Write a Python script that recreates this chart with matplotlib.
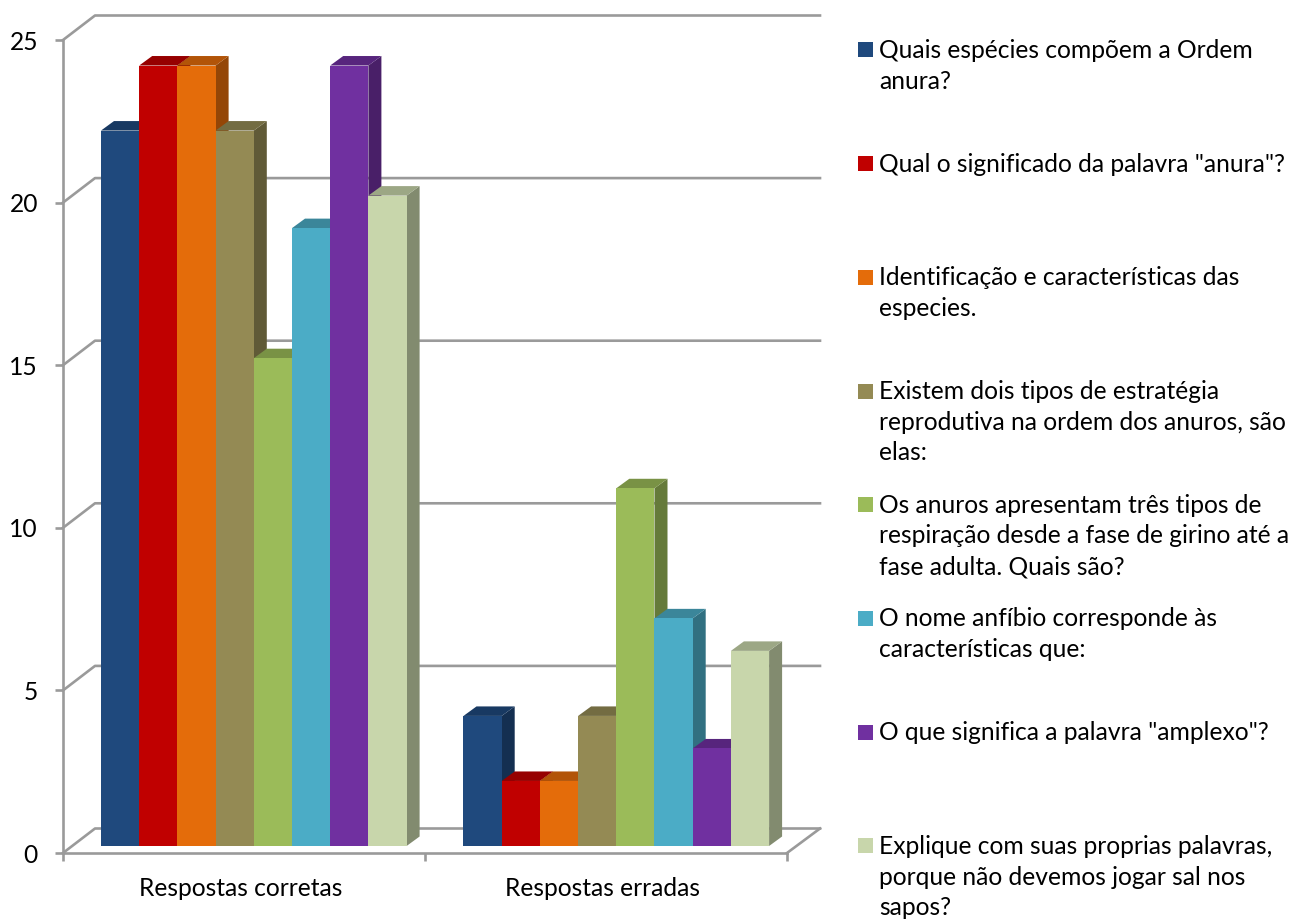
import matplotlib
matplotlib.use('Agg')
import matplotlib.pyplot as plt
from matplotlib.colors import to_rgb
from matplotlib.patches import Rectangle

plt.rcParams['font.family'] = ['Lato', 'DejaVu Sans']

categories = ['Respostas corretas', 'Respostas erradas']
series_labels = [
    'Quais espécies compõem a Ordem\nanura?',
    'Qual o significado da palavra "anura"?',
    'Identificação e características das\nespecies.',
    'Existem dois tipos de estratégia\nreprodutiva na ordem dos anuros, são\nelas:',
    'Os anuros apresentam três tipos de\nrespiração desde a fase de girino até a\nfase adulta. Quais são?',
    'O nome anfíbio corresponde às\ncaracterísticas que:',
    'O que significa a palavra "amplexo"?',
    'Explique com suas proprias palavras,\nporque não devemos jogar sal nos\nsapos?',
]
correct = [22, 24, 24, 22, 15, 19, 24, 20]
wrong = [4, 2, 2, 4, 11, 7, 3, 6]
colors = ['#1F497D', '#C00000', '#E46C0A', '#948A54', '#9BBB59', '#4BACC6', '#7030A0', '#C8D6AB']
y_ticks = [0, 5, 10, 15, 20, 25]

W, H = 1297, 921
GRAY = '#9a9a9a'
FONT = 17.7

# front plane of the fake 3d box, in pixels
left, right, y0, y25 = 63, 787, 853, 40
px_x = 2 / (right - left)
px_y = 25 / (y0 - y25)

fig = plt.figure(figsize=(W / 100, H / 100), dpi=100)
ax = fig.add_axes([left / W, 1 - y0 / H, (right - left) / W, (y0 - y25) / H])
ax.set_xlim(0, 2)
ax.set_ylim(0, 25)

# walls and gridlines
wall_dx, wall_dy = 32 * px_x, 24.5 * px_y
back_right = 2 + 33 * px_x
for v in y_ticks:
    ax.plot([0, wall_dx, back_right], [v, v + wall_dy, v + wall_dy],
            color=GRAY, lw=1.9, clip_on=False, zorder=1, solid_capstyle='projecting')
ax.plot([2, back_right], [0, wall_dy], color=GRAY, lw=1.9, clip_on=False, zorder=1)

# bars
bar_w = 38.2 * px_x
depth_x, depth_y = 13 * px_x, 9.5 * px_y
lift = 7 * px_y
starts = [(101 - left) * px_x, (463.5 - left) * px_x]


def shade(color, k):
    return tuple(c * k for c in to_rgb(color))


z = 3
for start, values in zip(starts, [correct, wrong]):
    for i, (v, c) in enumerate(zip(values, colors)):
        x0 = start + i * bar_w
        x1 = x0 + bar_w
        top = v + lift
        ax.fill([x1, x1 + depth_x, x1 + depth_x, x1],
                [lift, lift + depth_y, top + depth_y, top],
                color=shade(c, 0.65), lw=0, clip_on=False, zorder=z)
        ax.fill([x0, x0 + depth_x, x1 + depth_x, x1],
                [top, top + depth_y, top + depth_y, top],
                color=shade(c, 0.78), lw=0, clip_on=False, zorder=z)
        ax.bar(x0, v, width=bar_w, bottom=lift, align='edge', color=c, lw=0,
               clip_on=False, zorder=z + 1)
        z += 2

# axes
for side in ['top', 'right']:
    ax.spines[side].set_visible(False)
for side in ['left', 'bottom']:
    ax.spines[side].set_color(GRAY)
    ax.spines[side].set_linewidth(1.9)
    ax.spines[side].set_zorder(2)
ax.patch.set_visible(False)
ax.set_yticks(y_ticks)
ax.set_xticks([0, 1, 2])
ax.set_xticklabels([])
label_shift = 3 * px_x
ax.set_xticks([0.5 - label_shift, 1.5 - label_shift], categories, minor=True)
ax.tick_params(axis='both', which='major', color=GRAY, width=1.9, length=6, labelsize=FONT)
ax.tick_params(axis='y', pad=12)
ax.tick_params(axis='x', which='minor', length=0, labelsize=FONT, pad=17)

# legend, spaced evenly down the right side
for i, (label, c) in enumerate(zip(series_labels, colors)):
    y = 50 + i * 113.7
    fig.add_artist(Rectangle((858 / W, 1 - (y + 7.5) / H), 15 / W, 15 / H,
                             transform=fig.transFigure, color=c, lw=0))
    fig.text(879 / W, 1 - (y - 11) / H, label, fontsize=FONT, va='top', ha='left',
             linespacing=1.4, color='black')

fig.savefig('out.png', dpi=100)
